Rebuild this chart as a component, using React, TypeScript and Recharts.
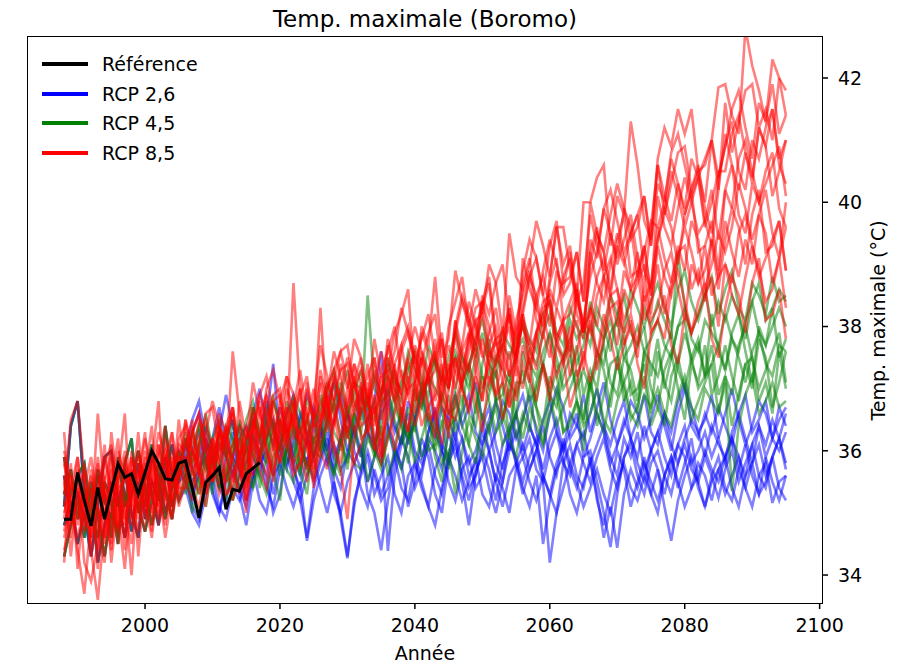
import { LineChart, Line, XAxis, YAxis } from "recharts";

const FIRST_YEAR = 1988;
const LAST_YEAR = 2095;
const X_TICKS = [2000, 2020, 2040, 2060, 2080, 2100];
const Y_TICKS = [34, 36, 38, 40, 42];

// observed reference series, 1988-2017
const REFERENCE = [
    34.9, 34.9, 35.65, 35.2, 34.79, 35.41, 34.9, 35.35, 35.79, 35.57,
    35.63, 35.3, 35.65, 36.0, 35.8, 35.55, 35.53, 35.8, 35.84, 35.4,
    34.92, 35.49, 35.6, 35.73, 35.06, 35.38, 35.35, 35.63, 35.72, 35.81
];

// historical runs 1988-2005 (RCP 8.5 models)
const HIST_0 = [35.3, 36.5, 36.8, 35.6, 34.6, 35.2, 36.1, 35.0, 34.8, 35.9, 35.4, 34.9, 36.0, 35.5, 35.1, 36.2, 35.4, 35.8];
const HIST_1 = [34.6, 35.1, 34.4, 33.7, 34.9, 36.6, 35.3, 34.5, 35.6, 36.6, 34.8, 35.3, 35.9, 34.9, 36.1, 35.6, 36.3, 35.2];
const HIST_2 = [35.9, 34.8, 35.5, 34.2, 33.9, 34.5, 35.6, 34.2, 35.2, 34.6, 36.0, 35.2, 34.7, 35.8, 36.8, 35.0, 35.7, 36.0];
const HIST_3 = [34.2, 35.6, 34.9, 35.8, 34.4, 33.6, 34.8, 35.9, 35.0, 34.1, 35.3, 36.3, 35.1, 36.0, 35.4, 34.6, 35.3, 36.5];
const HIST_4 = [35.6, 34.3, 35.4, 34.9, 35.7, 34.7, 34.2, 35.5, 36.2, 35.0, 34.5, 35.7, 35.3, 34.7, 35.9, 36.4, 34.9, 35.5];
const HIST_5 = [34.9, 35.8, 34.1, 35.3, 34.8, 35.9, 35.0, 34.4, 35.4, 35.5, 35.9, 34.3, 35.6, 36.4, 34.8, 35.3, 36.0, 35.1];
const HIST_6 = [36.3, 35.0, 35.9, 35.1, 35.4, 34.1, 35.5, 36.0, 34.5, 35.2, 34.0, 35.6, 36.3, 35.2, 35.7, 35.9, 35.1, 36.2];
const HIST_7 = [35.0, 35.4, 35.9, 34.7, 35.2, 34.4, 35.8, 36.1, 35.3, 34.8, 35.6, 35.9, 35.2, 34.6, 35.5, 36.0, 35.7, 35.4];
const HIST_8 = [35.5, 34.9, 35.2, 35.7, 34.3, 34.9, 35.4, 34.7, 36.0, 35.6, 35.1, 35.8, 34.9, 35.4, 36.1, 35.3, 34.9, 35.9];
const HIST_9 = [34.7, 35.3, 34.8, 35.4, 35.9, 35.1, 34.6, 35.2, 35.7, 34.4, 35.9, 35.5, 36.2, 35.7, 35.0, 35.8, 36.3, 35.6];
const HIST_10 = [35.2, 34.6, 35.7, 35.0, 34.5, 35.6, 34.9, 35.7, 34.8, 35.8, 35.2, 34.7, 35.4, 35.9, 35.3, 34.8, 35.6, 36.1];
const HIST_11 = [36.0, 35.5, 35.1, 34.8, 35.3, 35.8, 34.6, 34.9, 35.5, 36.0, 34.9, 35.4, 35.0, 35.6, 36.3, 35.9, 35.2, 35.7];
const HIST_12 = [34.4, 34.9, 35.5, 35.2, 34.6, 35.3, 35.9, 35.4, 34.7, 35.3, 35.7, 35.0, 35.8, 35.3, 34.9, 35.5, 35.9, 35.3];
const HIST_13 = [35.8, 35.2, 34.6, 35.1, 35.6, 35.0, 34.5, 36.3, 35.4, 34.9, 35.4, 36.0, 35.5, 35.0, 35.6, 35.2, 35.8, 35.9];

// historical runs 1988-2005 (RCP 2.6 / 4.5 models)
const HIST_BG_0 = [35.1, 36.4, 36.8, 35.3, 34.8, 35.6, 35.2, 34.9, 35.8, 35.3, 34.7, 35.5, 35.1, 35.9, 35.6, 35.0, 35.4, 35.7];
const HIST_BG_1 = [34.8, 35.2, 34.5, 35.0, 34.3, 35.1, 35.9, 36.0, 35.2, 34.6, 35.3, 35.8, 34.9, 35.5, 35.2, 35.9, 35.1, 35.6];
const HIST_BG_2 = [35.6, 35.0, 35.3, 34.9, 35.4, 34.2, 34.8, 35.5, 35.1, 35.7, 35.0, 34.6, 35.7, 35.3, 34.8, 35.6, 36.1, 35.5];
const HIST_BG_3 = [34.3, 34.8, 35.2, 34.6, 35.5, 35.0, 34.3, 35.0, 34.7, 35.2, 35.6, 35.1, 34.7, 35.2, 35.8, 35.4, 34.9, 35.8];
const HIST_BG_4 = [35.3, 35.7, 34.9, 35.4, 34.9, 35.7, 35.3, 34.6, 35.9, 35.1, 35.5, 36.0, 35.4, 34.8, 35.3, 36.4, 35.6, 35.2];
const HIST_BG_5 = [35.9, 35.3, 35.6, 35.8, 35.0, 34.6, 35.5, 35.2, 34.5, 35.8, 36.2, 35.0, 35.6, 36.1, 35.3, 34.9, 35.5, 36.0];

// RCP 2.6 runs, 2006-2095
const RCP26_0 = [
    35.6, 35.1, 34.9, 35.5, 35.9, 35.4, 35.2, 35.7, 35.3, 34.8,
    35.5, 35.9, 35.6, 35.0, 35.3, 36.1, 35.8, 35.2, 34.6, 35.4,
    35.8, 36.2, 35.5, 35.0, 34.3, 35.1, 35.7, 36.0, 35.6, 35.2,
    35.4, 36.0, 35.8, 35.1, 35.5, 36.2, 35.9, 35.3, 35.0, 35.8,
    36.1, 35.6, 35.2, 35.7, 35.9, 35.4, 35.0, 35.5, 36.2, 35.8,
    35.3, 35.7, 36.0, 35.5, 34.2, 35.0, 35.8, 36.1, 35.6, 35.4,
    35.9, 35.2, 34.8, 35.4, 36.0, 35.7, 35.1, 35.5, 35.9, 35.3,
    35.0, 35.6, 35.9, 35.4, 35.8, 36.2, 35.5, 35.1, 35.6, 35.9,
    35.4, 35.2, 35.7, 36.1, 35.6, 35.3, 35.9, 35.5, 35.2, 35.6
];
const RCP26_1 = [
    36.0, 36.5, 36.8, 36.2, 35.8, 36.3, 36.9, 36.4, 35.9, 36.1,
    36.6, 37.0, 36.4, 36.1, 36.7, 36.3, 35.9, 36.5, 36.9, 36.6,
    36.2, 36.8, 37.1, 36.5, 36.0, 36.4, 36.9, 36.6, 36.1, 36.7,
    37.0, 36.4, 36.1, 36.8, 36.5, 36.9, 37.2, 36.3, 36.0, 36.6,
    36.9, 36.4, 36.7, 37.1, 36.5, 36.0, 36.3, 36.8, 36.6, 36.2,
    36.5, 36.9, 36.3, 36.0, 36.6, 37.0, 36.7, 36.2, 36.4, 36.9,
    36.3, 36.7, 37.1, 36.5, 36.1, 36.4, 36.8, 36.6, 36.2, 36.5,
    36.9, 36.4, 36.0, 36.6, 37.0, 36.7, 36.3, 36.5, 36.9, 36.2,
    36.6, 37.0, 36.5, 36.1, 36.4, 36.8, 36.6, 36.2, 36.7, 36.4
];
const RCP26_2 = [
    35.8, 35.3, 35.6, 36.1, 35.4, 35.0, 35.5, 35.9, 35.7, 35.2,
    35.6, 36.0, 35.8, 35.3, 35.9, 36.2, 35.7, 35.4, 35.9, 35.5,
    35.9, 36.3, 35.7, 35.4, 36.0, 35.8, 36.1, 35.3, 35.0, 34.4,
    35.2, 35.8, 36.2, 35.9, 35.4, 35.7, 36.1, 35.6, 35.3, 35.9,
    36.3, 35.8, 35.4, 35.6, 36.0, 35.7, 35.2, 35.8, 36.1, 35.9,
    35.5, 35.9, 36.2, 35.6, 35.3, 35.8, 36.1, 35.7, 35.4, 35.9,
    36.0, 35.5, 35.0, 34.45, 35.3, 35.9, 36.2, 35.8, 35.5, 36.0,
    35.7, 35.3, 35.8, 36.1, 35.9, 35.4, 35.6, 36.0, 35.7, 35.5,
    35.9, 36.2, 35.7, 35.4, 35.8, 36.1, 35.6, 35.9, 36.2, 35.8
];
const RCP26_3 = [
    36.1, 35.7, 35.9, 36.4, 36.0, 35.6, 36.2, 36.5, 35.8, 36.0,
    36.3, 35.9, 36.5, 37.4, 36.2, 35.8, 36.1, 36.6, 36.3, 35.9,
    36.4, 36.0, 35.7, 36.2, 36.6, 36.3, 35.9, 36.5, 36.8, 37.6,
    36.4, 35.9, 36.2, 36.6, 36.0, 35.8, 36.3, 36.7, 36.1, 35.9,
    36.5, 36.2, 35.8, 36.0, 36.4, 36.7, 36.1, 35.7, 36.3, 36.6,
    36.0, 36.4, 36.1, 35.7, 36.2, 36.5, 36.0, 36.3, 36.6, 35.9,
    36.2, 36.6, 36.3, 35.8, 36.1, 36.5, 36.2, 35.9, 36.4, 36.0,
    36.3, 36.6, 36.1, 35.8, 36.2, 36.5, 36.3, 35.9, 36.4, 36.1,
    35.9, 36.3, 36.6, 36.2, 35.8, 36.4, 36.1, 36.5, 36.2, 36.6
];
const RCP26_4 = [
    35.4, 35.0, 34.8, 35.3, 35.6, 35.1, 34.9, 35.4, 35.2, 35.5,
    35.7, 35.2, 35.0, 35.6, 35.8, 35.4, 35.1, 35.5, 34.55, 35.2,
    35.6, 35.9, 35.3, 35.0, 35.5, 35.8, 35.4, 35.1, 35.7, 35.3,
    35.6, 35.9, 35.4, 35.2, 35.8, 35.5, 35.1, 34.8, 35.4, 35.9,
    35.6, 35.2, 35.5, 35.9, 35.3, 35.1, 35.6, 35.4, 35.0, 35.7,
    35.9, 35.5, 35.2, 35.6, 35.3, 35.0, 35.4, 35.8, 35.5, 35.1,
    35.4, 35.7, 35.3, 35.0, 35.5, 35.8, 35.4, 35.2, 35.6, 35.3,
    35.7, 35.1, 34.55, 35.2, 35.6, 35.9, 35.4, 35.1, 35.5, 35.7,
    35.3, 35.6, 35.9, 35.4, 35.1, 35.6, 35.8, 35.16, 35.5, 35.6
];
const RCP26_5 = [
    35.8, 36.3, 36.6, 36.0, 36.2, 36.7, 36.1, 35.9, 36.4, 36.2,
    36.5, 36.1, 36.8, 36.4, 36.0, 36.6, 36.9, 36.3, 36.1, 36.7,
    36.4, 36.0, 36.5, 36.9, 36.6, 36.2, 36.7, 36.3, 36.0, 36.6,
    36.8, 36.3, 36.6, 36.1, 36.5, 37.0, 36.4, 36.2, 36.7, 36.5,
    36.2, 36.6, 36.9, 36.3, 36.1, 36.5, 36.8, 36.4, 36.0, 36.6,
    36.9, 36.4, 36.1, 36.5, 36.8, 36.3, 36.0, 36.6, 36.4, 36.2,
    36.6, 37.0, 36.4, 36.1, 36.5, 36.8, 36.2, 36.5, 36.9, 36.3,
    36.1, 36.6, 36.3, 36.8, 37.1, 36.4, 36.2, 36.6, 36.3, 36.7,
    36.4, 36.1, 36.6, 36.9, 36.3, 36.5, 36.8, 36.2, 36.5, 36.7
];
const RCP26_6 = [
    35.5, 35.2, 35.7, 35.9, 35.3, 35.0, 35.6, 35.8, 35.4, 35.1,
    35.6, 35.9, 35.4, 35.1, 35.7, 36.0, 35.5, 35.2, 35.6, 35.9,
    35.4, 35.0, 35.5, 34.9, 34.27, 35.2, 35.6, 35.9, 35.3, 35.6,
    35.9, 35.3, 35.0, 35.6, 35.8, 35.4, 35.1, 35.7, 36.0, 35.5,
    35.2, 35.7, 35.9, 35.4, 35.6, 36.0, 35.5, 35.1, 35.6, 35.8,
    35.4, 35.1, 35.6, 34.5, 35.2, 35.7, 35.9, 35.3, 35.0, 35.5,
    35.8, 35.3, 34.6, 35.1, 34.44, 35.3, 35.7, 35.4, 35.8, 35.5,
    35.2, 35.6, 35.9, 35.5, 35.1, 35.4, 35.8, 35.6, 35.2, 35.7,
    35.9, 35.4, 35.1, 35.6, 35.8, 35.3, 35.5, 35.9, 35.4, 35.2
];
const RCP26_7 = [
    35.9, 35.5, 35.7, 36.2, 35.8, 35.4, 35.9, 36.3, 35.6, 35.8,
    36.2, 35.8, 36.0, 35.6, 36.1, 36.4, 35.9, 35.6, 36.2, 35.9,
    36.3, 35.8, 36.1, 35.7, 35.9, 36.4, 36.0, 35.5, 35.9, 36.2,
    34.39, 35.6, 36.1, 36.4, 35.9, 35.6, 36.2, 36.0, 35.7, 36.3,
    35.9, 36.2, 35.6, 35.8, 36.3, 36.0, 35.5, 36.1, 36.4, 35.8,
    36.1, 35.7, 36.0, 36.4, 35.9, 35.6, 36.2, 35.8, 36.1, 36.3,
    35.8, 36.1, 36.4, 35.9, 35.6, 36.2, 35.9, 36.3, 35.7, 36.0,
    36.3, 35.9, 35.6, 36.1, 36.4, 35.8, 36.0, 36.3, 35.9, 36.2,
    35.8, 36.2, 35.9, 35.6, 36.1, 36.4, 35.9, 36.2, 36.0, 36.3
];
const RCP26_8 = [
    35.6, 36.0, 36.3, 35.8, 35.5, 36.1, 35.9, 35.6, 36.2, 36.4,
    35.9, 35.6, 36.2, 36.5, 36.0, 35.7, 36.3, 36.1, 35.8, 36.4,
    36.1, 36.5, 35.9, 36.2, 36.6, 36.0, 35.7, 36.3, 36.1, 35.8,
    36.4, 36.1, 35.7, 36.2, 36.5, 35.9, 36.3, 36.6, 36.0, 35.8,
    36.2, 35.5, 34.8, 35.6, 36.1, 36.4, 35.8, 35.5, 36.0, 36.3,
    35.9, 36.2, 35.7, 35.5, 36.0, 36.3, 35.8, 35.6, 36.1, 35.8,
    35.5, 35.9, 36.2, 35.7, 35.4, 35.9, 36.1, 35.6, 35.3, 35.8,
    36.0, 35.6, 35.3, 35.8, 36.1, 35.7, 35.5, 35.9, 35.6, 35.24,
    35.7, 36.0, 35.5, 35.8, 36.1, 35.6, 35.4, 35.9, 36.2, 35.7
];

// RCP 4.5 runs, 2006-2095
const RCP45_0 = [
    36.3, 35.8, 36.1, 36.6, 36.0, 35.7, 36.4, 36.2, 35.9, 36.5,
    36.8, 36.2, 36.5, 36.9, 36.3, 36.1, 36.7, 36.4, 36.8, 36.5,
    36.7, 37.1, 36.6, 36.9, 37.3, 36.8, 36.5, 38.5, 37.0, 36.8,
    37.4, 37.0, 36.8, 37.3, 37.6, 37.1, 36.9, 37.5, 37.2, 37.0,
    37.6, 37.3, 37.0, 37.5, 37.9, 37.4, 37.2, 37.7, 37.5, 37.8,
    38.0, 37.6, 37.4, 37.9, 38.2, 37.7, 37.5, 38.1, 37.8, 38.0,
    37.7, 38.3, 38.0, 37.6, 38.2, 38.5, 37.9, 37.7, 38.3, 38.0,
    38.4, 38.1, 37.8, 39.2, 38.3, 37.9, 38.2, 38.6, 38.0, 38.4,
    38.1, 38.5, 38.2, 37.8, 38.4, 38.7, 38.1, 38.3, 38.6, 38.4
];
const RCP45_1 = [
    35.6, 36.0, 35.8, 35.4, 36.1, 35.9, 35.5, 36.2, 35.9, 35.7,
    36.3, 35.9, 36.2, 36.5, 35.8, 36.0, 36.4, 36.1, 35.7, 36.2,
    36.0, 36.6, 36.3, 36.1, 36.7, 36.4, 35.9, 36.5, 36.8, 36.2,
    36.5, 36.9, 36.4, 36.2, 36.8, 37.0, 36.5, 36.3, 36.9, 36.6,
    36.7, 37.1, 36.6, 36.4, 37.0, 37.3, 36.8, 36.5, 37.1, 36.9,
    37.3, 36.8, 37.0, 37.4, 36.9, 36.7, 37.2, 37.5, 37.0, 37.3,
    37.0, 37.4, 37.7, 37.1, 36.9, 37.5, 37.3, 36.8, 37.6, 37.4,
    37.2, 37.6, 37.9, 37.3, 37.0, 37.5, 37.8, 37.2, 37.4, 37.7,
    37.3, 37.8, 37.5, 37.1, 37.6, 37.9, 37.4, 37.2, 37.7, 37.6
];
const RCP45_2 = [
    35.3, 35.7, 35.5, 35.1, 35.8, 35.6, 35.2, 35.9, 35.4, 35.6,
    36.0, 35.6, 35.3, 35.9, 36.1, 35.7, 35.5, 36.0, 35.8, 35.6,
    36.2, 35.9, 35.6, 36.1, 36.4, 35.8, 35.7, 36.2, 36.0, 35.8,
    36.3, 36.0, 35.7, 36.2, 36.4, 35.9, 36.1, 36.5, 35.8, 36.0,
    35.3, 36.0, 36.5, 36.2, 35.9, 36.4, 36.7, 36.1, 36.3, 36.6,
    36.2, 36.7, 36.4, 36.1, 36.6, 36.9, 36.3, 36.5, 36.8, 36.4,
    36.6, 37.0, 36.5, 36.3, 36.8, 37.1, 36.6, 36.4, 36.9, 36.7,
    37.0, 36.6, 36.4, 36.9, 37.2, 36.7, 36.5, 37.0, 36.8, 36.6,
    37.1, 35.35, 36.4, 36.9, 37.2, 36.6, 36.8, 37.1, 36.7, 36.8
];
const RCP45_3 = [
    35.8, 36.3, 36.0, 35.7, 36.2, 36.5, 35.9, 36.1, 36.4, 35.8,
    36.5, 36.2, 36.7, 36.4, 36.0, 36.6, 36.8, 36.3, 36.5, 36.1,
    36.9, 36.5, 36.7, 37.1, 36.6, 36.9, 37.3, 36.7, 36.5, 37.0,
    37.2, 36.8, 37.1, 37.4, 36.9, 36.7, 37.2, 37.0, 36.8, 37.3,
    37.5, 37.1, 37.4, 37.7, 37.2, 37.0, 37.5, 37.3, 37.1, 37.6,
    37.8, 37.4, 37.2, 37.6, 37.9, 37.3, 37.5, 37.8, 37.4, 37.7,
    38.0, 37.6, 37.4, 37.9, 38.1, 37.5, 37.7, 38.0, 37.6, 37.8,
    38.1, 37.7, 37.5, 38.0, 38.3, 37.8, 37.6, 38.1, 37.9, 37.7,
    38.2, 37.8, 37.6, 38.1, 38.4, 37.9, 37.7, 38.0, 38.3, 38.0
];
const RCP45_4 = [
    36.2, 35.7, 35.3, 35.9, 35.5, 36.3, 36.0, 35.2, 35.6, 36.1,
    35.4, 35.8, 36.5, 36.1, 35.6, 36.0, 36.4, 35.7, 35.3, 36.2,
    36.3, 36.7, 35.9, 35.6, 36.4, 36.1, 36.6, 36.9, 36.0, 35.7,
    36.2, 36.7, 36.4, 35.8, 36.6, 37.0, 36.0, 36.1, 36.5, 35.7,
    36.9, 36.4, 36.1, 36.7, 37.2, 36.8, 36.3, 36.5, 37.0, 36.2,
    36.6, 36.3, 37.1, 37.4, 36.9, 36.4, 36.7, 37.0, 37.3, 36.5,
    37.2, 36.4, 36.9, 37.4, 37.5, 36.8, 37.1, 36.6, 37.6, 37.0,
    36.7, 37.3, 37.6, 37.0, 36.5, 37.4, 37.1, 37.7, 36.9, 37.2,
    37.7, 37.2, 36.8, 37.4, 37.0, 37.8, 37.5, 36.7, 37.1, 37.6
];
const RCP45_5 = [
    36.2, 35.8, 36.4, 36.1, 35.7, 36.3, 36.0, 35.9, 36.5, 36.1,
    36.7, 36.3, 36.1, 36.8, 36.5, 36.2, 36.9, 36.6, 36.3, 36.4,
    36.6, 37.0, 37.3, 36.8, 36.5, 37.1, 37.0, 36.7, 37.2, 36.9,
    37.5, 37.1, 37.0, 37.6, 37.3, 37.0, 37.7, 37.4, 37.1, 37.5,
    37.9, 37.5, 37.3, 37.8, 38.1, 37.6, 37.4, 37.9, 37.7, 37.5,
    38.1, 37.8, 37.6, 38.2, 38.4, 37.9, 37.7, 38.3, 38.0, 37.8,
    38.4, 38.0, 37.8, 38.5, 38.2, 37.9, 38.6, 38.3, 38.0, 38.4,
    38.7, 38.3, 38.0, 38.6, 38.9, 38.4, 38.1, 38.5, 38.8, 38.2,
    38.6, 38.9, 38.3, 38.1, 38.7, 38.5, 38.2, 38.8, 38.4, 38.5
];
const RCP45_6 = [
    35.8, 35.0, 35.5, 36.0, 36.1, 35.4, 35.7, 35.2, 36.2, 35.6,
    35.4, 36.0, 36.3, 35.7, 35.2, 36.1, 35.8, 36.4, 35.6, 35.9,
    36.5, 36.0, 35.6, 36.2, 35.8, 36.6, 36.3, 35.5, 35.9, 36.4,
    35.6, 36.0, 36.7, 36.3, 35.8, 36.2, 36.6, 35.9, 35.5, 36.4,
    36.5, 36.9, 36.1, 35.8, 36.6, 36.3, 36.8, 37.1, 36.2, 35.9,
    36.5, 37.0, 36.7, 36.1, 36.9, 37.3, 36.3, 36.4, 36.8, 36.0,
    37.1, 36.6, 36.3, 36.9, 37.4, 37.0, 36.5, 36.7, 37.2, 36.4,
    36.7, 36.4, 37.2, 37.5, 37.0, 36.5, 36.8, 37.1, 37.4, 36.6,
    37.2, 36.4, 36.9, 37.4, 37.5, 36.8, 37.1, 36.6, 37.6, 37.0
];
const RCP45_7 = [
    35.5, 36.1, 36.4, 35.8, 35.3, 36.2, 35.9, 36.5, 35.7, 36.0,
    36.7, 36.2, 35.8, 36.4, 36.0, 36.8, 36.5, 35.7, 36.1, 36.6,
    36.0, 36.4, 37.1, 36.7, 36.2, 36.6, 37.0, 36.3, 35.9, 36.8,
    36.9, 37.3, 36.5, 36.2, 37.0, 36.7, 37.2, 37.5, 36.6, 36.3,
    37.0, 37.5, 37.2, 36.6, 37.4, 37.8, 36.8, 36.9, 37.3, 36.5,
    37.6, 37.1, 36.8, 37.4, 37.9, 37.5, 37.0, 37.2, 37.7, 36.9,
    37.3, 37.0, 37.8, 38.1, 37.6, 37.1, 37.4, 37.7, 38.0, 37.2,
    37.8, 37.0, 37.5, 38.0, 38.1, 37.4, 37.7, 37.2, 38.2, 37.6,
    37.3, 37.9, 38.2, 37.6, 37.1, 38.0, 37.7, 38.3, 37.5, 37.8
];
const RCP45_8 = [
    35.6, 35.3, 36.1, 36.4, 35.9, 35.4, 35.7, 36.0, 36.3, 35.5,
    36.2, 35.4, 35.9, 36.4, 36.5, 35.8, 36.1, 35.6, 36.6, 36.0,
    35.9, 36.5, 36.8, 36.2, 35.7, 36.6, 36.3, 36.9, 36.1, 36.4,
    37.0, 36.5, 36.1, 36.7, 36.3, 37.1, 36.8, 36.0, 36.4, 36.9,
    36.3, 36.7, 37.4, 37.0, 36.5, 36.9, 37.3, 36.6, 36.2, 37.1,
    37.1, 37.5, 36.7, 36.4, 37.2, 36.9, 37.4, 37.7, 36.8, 36.5,
    37.1, 37.6, 37.3, 36.7, 37.5, 37.9, 36.9, 37.0, 37.4, 36.6,
    37.6, 37.1, 36.8, 37.4, 37.9, 37.5, 37.0, 37.2, 37.7, 36.9,
    37.2, 36.9, 37.7, 38.0, 37.5, 37.0, 37.3, 37.6, 37.9, 37.1
];

// RCP 8.5 runs, 2006-2095
const RCP85_0 = [
    36.5, 36.0, 35.7, 36.3, 36.8, 36.4, 35.9, 37.6, 36.6, 35.8,
    36.5, 36.2, 37.0, 37.3, 36.8, 36.3, 38.7, 36.9, 37.2, 36.4,
    38.3, 36.6, 37.1, 37.6, 37.7, 37.0, 37.3, 36.8, 37.8, 37.2,
    37.3, 37.9, 38.2, 38.6, 37.1, 38.0, 37.7, 38.8, 37.5, 37.8,
    38.9, 38.4, 38.0, 38.6, 38.2, 39.0, 38.7, 37.9, 39.5, 38.8,
    38.6, 39.0, 39.7, 39.3, 38.8, 39.6, 39.6, 38.9, 38.5, 40.0,
    40.0, 40.4, 40.6, 39.3, 40.1, 39.8, 41.3, 40.6, 39.7, 39.4,
    40.7, 41.2, 40.9, 41.5, 41.1, 41.5, 40.5, 40.6, 41.0, 41.85,
    41.9, 41.4, 41.1, 42.8, 42.2, 41.8, 41.3, 42.3, 42.0, 41.8
];
const RCP85_1 = [
    35.7, 36.3, 36.6, 36.0, 35.5, 36.4, 36.1, 36.7, 35.9, 36.2,
    37.1, 36.6, 36.2, 36.8, 36.4, 37.2, 36.9, 36.1, 36.5, 37.0,
    36.5, 36.9, 37.6, 37.2, 36.7, 37.1, 37.5, 36.8, 36.4, 37.3,
    37.6, 38.0, 37.2, 36.9, 37.7, 37.4, 37.9, 38.2, 37.3, 37.0,
    38.0, 38.5, 38.2, 37.6, 38.4, 38.8, 37.8, 37.9, 38.3, 37.5,
    39.1, 38.6, 38.3, 38.9, 39.4, 39.0, 38.5, 38.7, 39.2, 38.4,
    39.4, 39.1, 39.9, 40.2, 39.7, 39.2, 39.5, 39.8, 40.1, 39.3,
    40.6, 39.8, 40.3, 40.8, 40.9, 40.2, 40.5, 40.0, 41.0, 40.4,
    40.9, 41.5, 41.8, 41.2, 40.7, 41.6, 41.3, 41.9, 41.1, 41.4
];
const RCP85_2 = [
    36.1, 36.5, 35.7, 35.4, 36.2, 35.9, 36.4, 36.7, 35.8, 35.5,
    36.4, 36.9, 36.6, 36.0, 36.8, 37.2, 36.2, 36.3, 36.7, 35.9,
    37.2, 36.7, 36.4, 37.0, 37.5, 37.1, 36.6, 36.8, 37.3, 36.5,
    37.2, 36.9, 37.7, 38.0, 37.5, 37.0, 37.3, 37.6, 37.9, 37.1,
    38.1, 37.3, 37.8, 38.3, 38.4, 37.7, 38.0, 37.5, 38.5, 37.9,
    38.2, 38.8, 39.1, 38.5, 38.0, 38.9, 38.6, 39.2, 38.4, 38.7,
    39.8, 39.3, 38.9, 39.5, 39.1, 39.9, 39.6, 38.8, 39.2, 39.7,
    39.6, 40.0, 40.7, 40.3, 39.8, 40.2, 40.6, 39.9, 39.5, 40.4,
    40.9, 41.3, 40.5, 40.2, 41.0, 40.7, 41.2, 41.5, 40.6, 40.3
];
const RCP85_3 = [
    35.7, 35.4, 36.2, 36.5, 36.0, 35.5, 35.8, 36.1, 36.4, 35.6,
    36.6, 35.8, 36.3, 36.8, 36.9, 36.2, 36.5, 36.0, 37.0, 36.4,
    36.4, 37.0, 37.3, 36.7, 36.2, 37.1, 36.8, 37.4, 36.6, 36.9,
    37.8, 37.3, 36.9, 37.5, 37.1, 37.9, 37.6, 36.8, 37.2, 37.7,
    37.3, 37.7, 38.4, 38.0, 37.5, 37.9, 38.3, 37.6, 37.2, 38.1,
    38.5, 38.9, 38.1, 37.8, 38.6, 38.3, 38.8, 39.1, 38.2, 37.9,
    39.0, 39.5, 39.2, 38.6, 39.4, 39.8, 38.8, 38.9, 39.3, 38.5,
    40.1, 39.6, 39.3, 39.9, 40.4, 40.0, 39.5, 39.7, 40.2, 39.4,
    40.2, 39.9, 40.7, 41.0, 40.5, 40.0, 40.3, 40.6, 40.9, 40.1
];
const RCP85_4 = [
    36.2, 35.7, 35.3, 35.9, 35.5, 36.3, 36.0, 35.2, 35.6, 36.1,
    35.6, 36.0, 36.7, 36.3, 35.8, 36.2, 36.6, 35.9, 35.5, 36.4,
    36.5, 36.9, 36.1, 35.8, 36.6, 36.3, 36.8, 37.1, 36.2, 35.9,
    36.7, 37.2, 36.9, 36.3, 37.1, 37.5, 36.5, 36.6, 37.0, 36.2,
    37.5, 37.0, 36.7, 37.3, 37.8, 37.4, 36.9, 37.1, 37.6, 36.8,
    37.4, 37.1, 37.9, 38.2, 37.7, 37.2, 37.5, 37.8, 38.1, 37.3,
    38.3, 37.5, 38.0, 38.5, 38.6, 37.9, 38.2, 37.7, 38.7, 38.1,
    38.3, 38.9, 39.2, 38.6, 38.1, 39.0, 38.7, 39.3, 38.5, 38.8,
    39.7, 39.2, 38.8, 39.4, 39.0, 39.8, 39.5, 38.7, 39.1, 39.6
];
const RCP85_5 = [
    35.5, 36.0, 35.7, 35.1, 35.9, 36.3, 35.3, 35.4, 35.8, 35.0,
    36.2, 35.7, 35.4, 36.0, 36.5, 36.1, 35.6, 35.8, 36.3, 35.5,
    36.0, 35.7, 36.5, 36.8, 36.3, 35.8, 36.1, 36.4, 36.7, 35.9,
    36.8, 36.0, 36.5, 37.0, 37.1, 36.4, 36.7, 36.2, 37.2, 36.6,
    36.5, 37.1, 37.4, 36.8, 36.3, 37.2, 36.9, 37.5, 36.7, 37.0,
    37.7, 37.2, 36.8, 37.4, 37.0, 37.8, 37.5, 36.7, 37.1, 37.6,
    37.1, 37.5, 38.2, 37.8, 37.3, 37.7, 38.1, 37.4, 37.0, 37.9,
    38.1, 38.5, 37.7, 37.4, 38.2, 37.9, 38.4, 38.7, 37.8, 37.5,
    38.3, 38.8, 38.5, 37.9, 38.7, 39.1, 38.1, 38.2, 38.6, 37.8
];
const RCP85_6 = [
    36.4, 35.6, 36.1, 36.6, 36.7, 36.0, 36.3, 35.8, 36.8, 36.2,
    36.3, 36.9, 37.2, 36.6, 36.1, 37.0, 36.7, 37.3, 36.5, 36.8,
    37.7, 37.2, 36.8, 37.4, 37.0, 37.8, 37.5, 36.7, 37.1, 37.6,
    37.2, 37.6, 38.3, 37.9, 37.4, 37.8, 38.2, 37.5, 37.1, 38.0,
    38.4, 38.8, 38.0, 37.7, 38.5, 38.2, 38.7, 39.0, 38.1, 37.8,
    38.9, 39.4, 39.1, 38.5, 39.3, 39.7, 38.7, 38.8, 39.2, 38.4,
    40.0, 39.5, 39.2, 39.8, 40.3, 39.9, 39.4, 39.6, 40.1, 39.3,
    40.3, 40.0, 40.8, 41.1, 40.6, 40.1, 40.4, 40.7, 41.0, 40.2,
    41.6, 40.8, 41.3, 41.8, 41.9, 41.2, 41.5, 41.0, 42.0, 41.4
];
const RCP85_7 = [
    35.4, 35.8, 36.5, 36.1, 35.6, 36.0, 36.4, 35.7, 35.3, 36.2,
    36.4, 36.8, 36.0, 35.7, 36.5, 36.2, 36.7, 37.0, 36.1, 35.8,
    36.6, 37.1, 36.8, 36.2, 37.0, 37.4, 36.4, 36.5, 36.9, 36.1,
    37.3, 36.8, 36.5, 37.1, 37.6, 37.2, 36.7, 36.9, 37.4, 36.6,
    37.3, 37.0, 37.8, 38.1, 37.6, 37.1, 37.4, 37.7, 38.0, 37.2,
    38.2, 37.4, 37.9, 38.4, 38.5, 37.8, 38.1, 37.6, 38.6, 38.0,
    38.2, 38.8, 39.1, 38.5, 38.0, 38.9, 38.6, 39.2, 38.4, 38.7,
    39.6, 39.1, 38.7, 39.3, 38.9, 39.7, 39.4, 38.6, 39.0, 39.5,
    39.2, 39.6, 40.3, 39.9, 39.4, 39.8, 40.2, 39.5, 39.1, 40.0
];
const RCP85_8 = [
    35.9, 35.4, 35.1, 35.7, 36.2, 35.8, 35.3, 35.5, 36.0, 35.2,
    35.9, 36.4, 36.1, 35.5, 36.3, 36.7, 35.7, 35.8, 36.2, 35.4,
    36.4, 36.8, 36.0, 35.7, 34.9, 36.2, 36.7, 37.0, 36.1, 35.8,
    36.2, 36.6, 37.3, 36.9, 36.4, 36.8, 37.2, 36.5, 36.1, 37.0,
    37.5, 37.0, 36.6, 37.2, 36.8, 37.6, 37.3, 36.5, 36.9, 37.4,
    37.0, 37.6, 37.9, 37.3, 36.8, 37.7, 37.4, 38.0, 37.2, 37.5,
    38.1, 37.3, 37.8, 38.3, 38.4, 37.7, 38.0, 37.5, 38.5, 37.9,
    38.1, 37.8, 38.6, 38.9, 38.4, 37.9, 38.2, 38.5, 38.8, 38.0,
    39.0, 38.5, 38.2, 38.8, 39.3, 38.9, 38.4, 38.6, 39.1, 38.3
];
const RCP85_9 = [
    35.7, 36.3, 36.6, 36.0, 35.5, 36.4, 36.1, 36.7, 35.9, 36.2,
    36.7, 35.9, 36.4, 36.9, 37.0, 36.3, 36.6, 36.1, 37.1, 36.5,
    36.8, 36.5, 37.3, 37.6, 37.1, 36.6, 36.9, 37.2, 37.5, 36.7,
    37.7, 37.2, 36.9, 37.5, 38.0, 37.6, 37.1, 37.3, 37.8, 37.0,
    37.9, 38.4, 38.1, 37.5, 38.3, 38.7, 37.7, 37.8, 38.2, 37.4,
    38.7, 39.1, 38.3, 38.0, 38.8, 39.6, 39.0, 39.3, 38.4, 38.1,
    38.8, 39.2, 39.9, 39.5, 39.0, 39.4, 39.8, 39.1, 38.7, 39.6,
    40.6, 40.1, 39.7, 40.3, 39.9, 40.7, 40.4, 39.6, 40.0, 40.5,
    40.5, 41.1, 41.4, 40.8, 40.3, 41.2, 40.9, 41.5, 40.7, 41.0
];
const RCP85_10 = [
    36.0, 36.4, 35.6, 35.3, 36.1, 35.8, 36.3, 36.6, 35.7, 35.4,
    35.8, 36.2, 36.9, 36.5, 36.0, 36.4, 36.8, 36.1, 35.7, 36.6,
    37.3, 36.8, 36.4, 37.0, 36.6, 37.4, 37.1, 36.3, 36.7, 37.2,
    36.8, 37.4, 37.7, 37.1, 36.6, 37.5, 37.2, 37.8, 37.0, 37.3,
    37.9, 37.1, 37.6, 38.1, 38.2, 37.5, 37.8, 37.3, 38.3, 37.7,
    38.0, 37.7, 38.5, 38.8, 38.3, 37.8, 38.1, 38.4, 38.7, 37.9,
    39.2, 38.7, 38.4, 39.0, 39.5, 39.1, 38.6, 38.8, 39.3, 38.5,
    39.4, 39.9, 39.6, 39.0, 39.8, 40.2, 39.2, 39.3, 39.7, 38.9,
    40.2, 40.6, 39.8, 39.5, 40.3, 40.0, 40.5, 40.8, 39.9, 39.6
];
const RCP85_11 = [
    35.5, 35.2, 36.0, 36.3, 35.8, 35.3, 35.6, 35.9, 36.2, 35.4,
    36.4, 35.9, 35.6, 36.2, 36.7, 36.3, 35.8, 36.0, 36.5, 35.7,
    36.4, 36.9, 36.6, 36.0, 36.8, 37.2, 36.2, 36.3, 36.7, 35.9,
    37.0, 37.4, 36.6, 36.3, 37.1, 36.8, 37.3, 37.6, 36.7, 36.4,
    36.8, 37.2, 37.9, 37.5, 37.0, 37.4, 37.8, 37.1, 36.7, 37.6,
    38.2, 37.7, 37.3, 37.9, 37.5, 38.3, 38.0, 37.2, 37.6, 38.1,
    37.9, 38.5, 38.8, 38.2, 37.7, 38.6, 38.3, 38.9, 38.1, 38.4,
    39.0, 38.2, 38.7, 39.2, 39.3, 38.6, 38.9, 38.4, 39.4, 38.8,
    39.0, 38.7, 39.5, 39.8, 39.3, 38.8, 39.1, 39.4, 39.7, 38.9
];
const RCP85_12 = [
    36.5, 36.0, 35.6, 36.2, 35.8, 36.6, 36.3, 35.5, 35.9, 36.4,
    36.0, 36.6, 36.9, 36.3, 35.8, 36.7, 36.4, 37.0, 36.2, 36.5,
    37.1, 36.3, 36.8, 37.3, 37.4, 36.7, 37.0, 36.5, 37.5, 36.9,
    37.1, 36.8, 37.6, 37.9, 37.4, 36.9, 37.2, 37.5, 37.8, 37.0,
    38.1, 37.6, 37.3, 37.9, 38.4, 38.0, 37.5, 37.7, 38.2, 37.4,
    38.3, 38.8, 38.5, 37.9, 38.7, 39.1, 38.1, 38.2, 38.6, 37.8,
    39.2, 39.6, 38.8, 38.5, 39.3, 39.0, 39.5, 39.8, 38.9, 38.6,
    39.4, 39.8, 40.5, 40.1, 39.6, 40.0, 40.4, 39.7, 39.3, 40.2,
    41.1, 40.6, 40.2, 40.8, 40.4, 41.2, 40.9, 40.1, 40.5, 41.0
];
const RCP85_13 = [
    35.7, 36.2, 35.9, 35.3, 36.1, 36.5, 35.5, 35.6, 36.0, 35.2,
    36.3, 36.7, 35.9, 35.6, 36.4, 36.1, 36.6, 36.9, 36.0, 35.7,
    36.1, 36.5, 37.2, 36.8, 36.3, 36.7, 37.1, 36.4, 36.0, 36.9,
    37.5, 37.0, 36.6, 37.2, 36.8, 37.6, 37.3, 36.5, 36.9, 37.4,
    37.0, 37.6, 37.9, 37.3, 36.8, 37.7, 37.4, 38.0, 37.2, 37.5,
    38.1, 37.3, 37.8, 38.3, 38.4, 37.7, 38.0, 37.5, 38.5, 37.9,
    38.3, 38.0, 38.8, 39.1, 38.6, 38.1, 38.4, 38.7, 39.0, 38.2,
    39.3, 38.8, 38.5, 39.1, 39.6, 39.2, 38.7, 38.9, 39.4, 38.6,
    39.4, 39.9, 39.6, 39.0, 39.8, 40.2, 39.2, 39.3, 39.7, 38.9
];

const HISTS = [HIST_0, HIST_1, HIST_2, HIST_3, HIST_4, HIST_5, HIST_6, HIST_7, HIST_8, HIST_9, HIST_10, HIST_11, HIST_12, HIST_13];
const HISTS_BG = [HIST_BG_0, HIST_BG_1, HIST_BG_2, HIST_BG_3, HIST_BG_4, HIST_BG_5];
const RCP26_RUNS = [RCP26_0, RCP26_1, RCP26_2, RCP26_3, RCP26_4, RCP26_5, RCP26_6, RCP26_7, RCP26_8];
const RCP45_RUNS = [RCP45_0, RCP45_1, RCP45_2, RCP45_3, RCP45_4, RCP45_5, RCP45_6, RCP45_7, RCP45_8];
const RCP85_RUNS = [
    RCP85_0, RCP85_1, RCP85_2, RCP85_3, RCP85_4, RCP85_5, RCP85_6,
    RCP85_7, RCP85_8, RCP85_9, RCP85_10, RCP85_11, RCP85_12, RCP85_13
];

const BLUE = "#0000ff";
const GREEN = "#008000";
const RED = "#ff0000";
const FONT = "DejaVu Sans";

interface Serie {
    key: string;
    color: string;
    values: number[];
}

// each run = its historical part + its projection
const series: Serie[] = [
    ...RCP26_RUNS.map((f, i) => ({ key: "b" + i, color: BLUE, values: [...HISTS_BG[i % 6], ...f] })),
    ...RCP45_RUNS.map((f, i) => ({ key: "g" + i, color: GREEN, values: [...HISTS_BG[(i + 3) % 6], ...f] })),
    ...RCP85_RUNS.map((f, i) => ({ key: "r" + i, color: RED, values: [...HISTS[i], ...f] })),
];

const data: Record<string, number>[] = [];
for (let y = FIRST_YEAR; y <= LAST_YEAR; y++) {
    const i = y - FIRST_YEAR;
    const row: Record<string, number> = { year: y };
    series.forEach(s => { row[s.key] = s.values[i]; });
    if (i < REFERENCE.length) row.ref = REFERENCE[i];
    data.push(row);
}

const legendItems = [
    { label: "Référence", color: "#000000" },
    { label: "RCP 2,6", color: BLUE },
    { label: "RCP 4,5", color: GREEN },
    { label: "RCP 8,5", color: RED },
];

const tickStyle = { fill: "#000", fontSize: 19, fontFamily: FONT };

export default function App() {
    return (
        <div style={{ position: "relative", width: 896, height: 656, fontFamily: FONT }}>

            <LineChart width={896}
                       height={648}
                       data={data}
                       margin={{ top: 29, left: 20, right: 0, bottom: 0 }}
                       style={{ fontFamily: FONT }}>

                <XAxis dataKey="year"
                       type="number"
                       domain={[1982.65, 2100.35]}
                       ticks={X_TICKS}
                       interval={0}
                       allowDataOverflow
                       height={53}
                       axisLine={false}
                       tickSize={6}
                       tickMargin={10}
                       tickLine={{ stroke: "#000", strokeWidth: 1.5 }}
                       tick={tickStyle} />

                <YAxis orientation="right"
                       type="number"
                       domain={[33.55, 42.66]}
                       ticks={Y_TICKS}
                       interval={0}
                       allowDataOverflow
                       width={82}
                       axisLine={false}
                       tickSize={6}
                       tickMargin={10}
                       tickLine={{ stroke: "#000", strokeWidth: 1.5 }}
                       tick={tickStyle} />

                {series.map(s => (
                    <Line key={s.key}
                          dataKey={s.key}
                          type="linear"
                          stroke={s.color}
                          strokeOpacity={0.5}
                          strokeWidth={2.6}
                          dot={false}
                          activeDot={false}
                          isAnimationActive={false} />
                ))}

                <Line dataKey="ref"
                      type="linear"
                      stroke="#000"
                      strokeWidth={3}
                      dot={false}
                      activeDot={false}
                      isAnimationActive={false} />

            </LineChart>

            {/* spines */}
            <div style={{
                position: "absolute", left: 19.25, top: 28.25, width: 795.5, height: 567.5,
                boxSizing: "border-box", border: "1.5px solid #000", pointerEvents: "none"
            }} />

            <div style={{
                position: "absolute", left: 20, top: -0.5, width: 794, textAlign: "center",
                fontSize: 23, lineHeight: "23px", color: "#000"
            }}>
                Temp. maximale (Boromo)
            </div>

            <div style={{
                position: "absolute", left: 20, top: 636, width: 794, textAlign: "center",
                fontSize: 19, lineHeight: "19px", color: "#000"
            }}>
                Année
            </div>

            <div style={{
                position: "absolute", left: 739.5, top: 302.5, width: 260, height: 19, textAlign: "center",
                fontSize: 19, lineHeight: "19px", color: "#000", transform: "rotate(-90deg)", whiteSpace: "nowrap"
            }}>
                Temp. maximale (°C)
            </div>

            {legendItems.map((it, i) => {
                const cy = 56 + i * 29.5;
                return (
                    <div key={it.label}>
                        <div style={{ position: "absolute", left: 34, top: cy - 2, width: 46, height: 4, background: it.color }} />
                        <div style={{
                            position: "absolute", left: 94, top: cy - 9, fontSize: 19, lineHeight: "19px",
                            color: "#000", whiteSpace: "nowrap"
                        }}>
                            {it.label}
                        </div>
                    </div>
                );
            })}

        </div>
    );
}
